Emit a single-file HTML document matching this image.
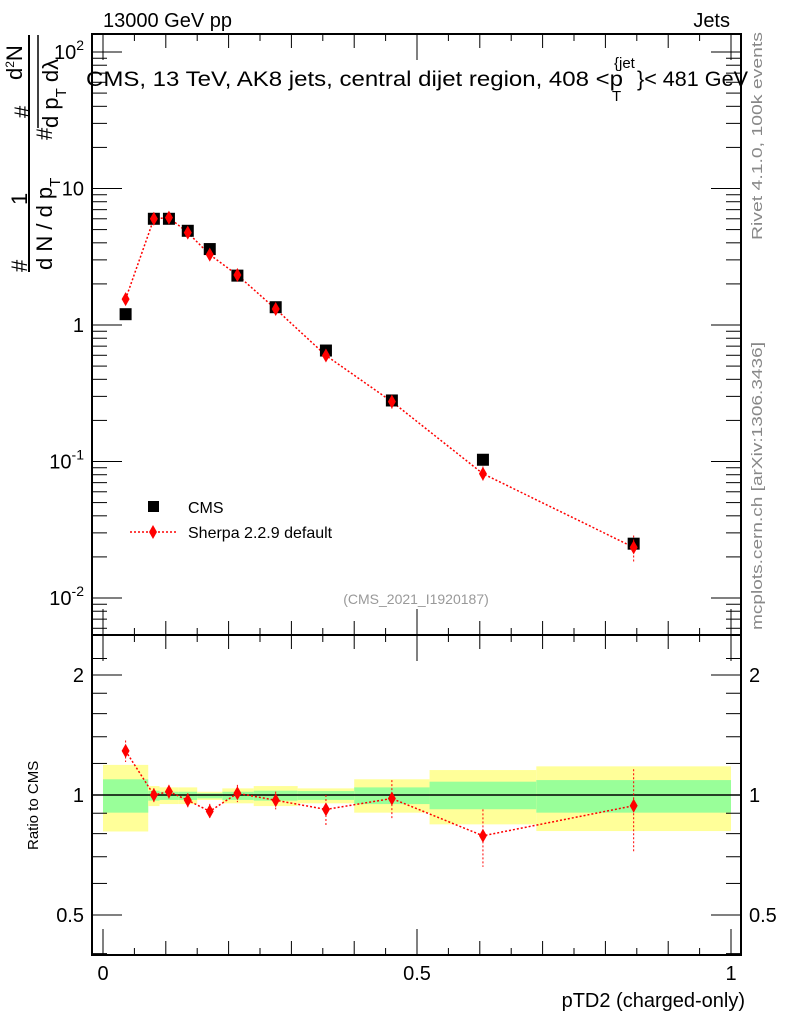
<!DOCTYPE html>
<html><head><meta charset="utf-8"><style>
html,body{margin:0;padding:0;background:#fff;}
svg{display:block;font-family:"Liberation Sans",sans-serif;}
</style></head><body>
<svg id="chart" width="786" height="1024" viewBox="0 0 786 1024" xmlns="http://www.w3.org/2000/svg">
<g id="bands"></g>
<g id="ticks"></g>
<g id="marks"></g>
<rect x="92" y="34" width="649" height="601" fill="none" stroke="#000" stroke-width="2"/>
<rect x="92" y="635" width="649" height="320" fill="none" stroke="#000" stroke-width="2"/>
<text x="103" y="27" font-size="20">13000 GeV pp</text>
<text x="730" y="27" font-size="20" text-anchor="end">Jets</text>
<g>
<text x="86" y="86" font-size="21" textLength="537" lengthAdjust="spacingAndGlyphs">CMS, 13 TeV, AK8 jets, central dijet region, 408 &lt;p</text>
<text x="614" y="68" font-size="15">{jet</text>
<text x="612" y="101" font-size="15">T</text>
<text x="637" y="86" font-size="21" textLength="111" lengthAdjust="spacingAndGlyphs">}&lt; 481 GeV</text>
</g>
<text transform="translate(762,240) rotate(-90)" font-size="15" fill="#888" textLength="208" lengthAdjust="spacingAndGlyphs">Rivet 4.1.0,  100k events</text>
<text transform="translate(762,630) rotate(-90)" font-size="15" fill="#888" textLength="288" lengthAdjust="spacingAndGlyphs">mcplots.cern.ch [arXiv:1306.3436]</text>
<text x="416" y="604" font-size="14" fill="#999" text-anchor="middle">(CMS_2021_I1920187)</text>
<g font-size="22">
<text transform="translate(27,272) rotate(-90)">#</text>
<text transform="translate(27,205) rotate(-90)">1</text>
<line x1="29" y1="272" x2="29" y2="35" stroke="#000" stroke-width="2"/>
<text transform="translate(52,270) rotate(-90)">d N / d p<tspan font-size="15" dy="8">T</tspan></text>
<text transform="translate(52,140) rotate(-90)">#</text>
<text transform="translate(30,118) rotate(-90)">#</text>
<text transform="translate(22,80) rotate(-90)">d<tspan font-size="12" dy="-8">2</tspan><tspan dy="8">N</tspan></text>
<line x1="38" y1="128" x2="38" y2="35" stroke="#000" stroke-width="1.5"/>
<text transform="translate(58,128) rotate(-90)">d p<tspan font-size="15" dy="8">T</tspan><tspan dy="-8"> dλ</tspan></text>
</g>
<text transform="translate(38,850) rotate(-90)" font-size="15">Ratio to CMS</text>
<text x="745" y="1007" font-size="20" text-anchor="end">pTD2 (charged-only)</text>
<g>
<rect x="148" y="501" width="11" height="11" fill="#000"/>
<text x="188" y="513" font-size="16">CMS</text>
<line x1="130" y1="532" x2="178" y2="532" stroke="#f00" stroke-width="1.5" stroke-dasharray="2,2"/>
<path d="M153 525 L157 532 L153 539 L149 532 Z" fill="#f00"/>
<text x="188" y="538" font-size="16">Sherpa 2.2.9 default</text>
</g>
</svg>
<script>
const edges=[0,0.072,0.09,0.12,0.15,0.19,0.24,0.31,0.40,0.52,0.69,1.0];
const xCenters=[0.036,0.081,0.105,0.135,0.17,0.214,0.275,0.355,0.46,0.605,0.845];
const cmsValues=[1.2,6.0,6.0,4.9,3.6,2.3,1.35,0.65,0.28,0.103,0.025];
const ratioValues=[1.29,1.0,1.02,0.97,0.91,1.01,0.97,0.92,0.98,0.79,0.94];
const ratioErrors=[0.08,0.04,0.04,0.04,0.04,0.05,0.05,0.08,0.11,0.13,0.22];
const yellowHi=[1.19,1.053,1.045,1.045,1.019,1.039,1.053,1.039,1.095,1.155,1.18];
const yellowLo=[0.81,0.938,0.949,0.949,0.972,0.953,0.938,0.953,0.903,0.844,0.812];
const greenHi=[1.095,1.025,1.019,1.019,1.01,1.019,1.025,1.023,1.045,1.08,1.09];
const greenLo=[0.903,0.968,0.972,0.972,0.981,0.972,0.968,0.972,0.949,0.921,0.903];
const mainTickLabels=["10^-2","10^-1","1","10","10^2"];
const ratioTickVals=[0.5,1,2];
const xTickLabels=["0","0.5","1"];
const NS="http://www.w3.org/2000/svg";
const X=v=>103+628*v;
const Y=v=>325-136.5*Math.log10(v);
const R=v=>795-398.6*Math.log10(v);
function mk(tag,attrs,parent){const e=document.createElementNS(NS,tag);for(const k in attrs)e.setAttribute(k,attrs[k]);parent.appendChild(e);return e;}
const bands=document.getElementById('bands'),ticks=document.getElementById('ticks'),marks=document.getElementById('marks');
for(let i=0;i<xCenters.length;i++){
 const x0=X(edges[i]),x1=X(edges[i+1]);
 const yb=mk('rect',{x:x0,y:R(yellowHi[i]),width:x1-x0,height:R(yellowLo[i])-R(yellowHi[i]),fill:'#ffff99'},bands);
 
 
 const gb=mk('rect',{x:x0,y:R(greenHi[i]),width:x1-x0,height:R(greenLo[i])-R(greenHi[i]),fill:'#99ff99'},bands);
 
 
}
const one=mk('line',{x1:92,x2:741,y1:R(1),y2:R(1),stroke:'#000','stroke-width':1.5},bands);


for(let k=0;k<=20;k++){const v=k*0.05,x=X(v);const big=k%10==0,mid=k%2==0;const L=big?26:(mid?14:7);
 mk('line',{x1:x,x2:x,y1:34,y2:34+L,stroke:'#000'},ticks);
 mk('line',{x1:x,x2:x,y1:635-L,y2:635+L,stroke:'#000'},ticks);
 mk('line',{x1:x,x2:x,y1:955-L,y2:955,stroke:'#000'},ticks);}
xTickLabels.forEach((t,i)=>{const tl=mk('text',{x:X(i*0.5),y:980,'font-size':20,'text-anchor':'middle'},ticks);tl.textContent=t;
 
 });
for(let d=-3;d<=2;d++){for(let m=1;m<10;m++){const v=m*Math.pow(10,d),y=Y(v);if(y<34||y>635)continue;const L=m==1?30:15;
 mk('line',{x1:92,x2:92+L,y1:y,y2:y,stroke:'#000'},ticks);mk('line',{x1:741-L,x2:741,y1:y,y2:y,stroke:'#000'},ticks);}}
mainTickLabels.forEach((t,i)=>{const y=Y(Math.pow(10,i-2))+7;const tl=mk('text',{x:84,y:y,'font-size':20,'text-anchor':'end'},ticks);
 
 
 const p=t.split('^');if(p.length==1)tl.textContent=t;else{tl.textContent=p[0];const s=mk('tspan',{'font-size':14,dy:-9},tl);s.textContent=p[1];}});
[0.4,0.5,0.6,0.7,0.8,0.9,1,1.2,1.4,1.6,1.8,2,2.2].forEach(v=>{const y=R(v);if(y<635||y>955)return;const L=(v==0.5||v==1||v==2)?30:15;
 mk('line',{x1:92,x2:92+L,y1:y,y2:y,stroke:'#000'},ticks);mk('line',{x1:741-L,x2:741,y1:y,y2:y,stroke:'#000'},ticks);});
ratioTickVals.forEach(v=>{[[84,'end'],[749,'start']].forEach(([x,a])=>{const tl=mk('text',{x:x,y:R(v)+7,'font-size':20,'text-anchor':a},ticks);tl.textContent=String(v);
 
 });});
const sherpa=cmsValues.map((v,i)=>v*ratioValues[i]);
mk('polyline',{points:xCenters.map((x,i)=>X(x)+','+Y(sherpa[i])).join(' '),fill:'none',stroke:'#f00','stroke-width':1.5,'stroke-dasharray':'2,2'},marks);
mk('polyline',{points:xCenters.map((x,i)=>X(x)+','+R(ratioValues[i])).join(' '),fill:'none',stroke:'#f00','stroke-width':1.5,'stroke-dasharray':'2,2'},marks);
xCenters.forEach((xv,i)=>{const x=X(xv);
 const sq=mk('rect',{x:x-6,y:Y(cmsValues[i])-6,width:12,height:12,fill:'#000'},marks);
 
 
 const ys=Y(sherpa[i]),e=ratioErrors[i];
 mk('line',{x1:x,x2:x,y1:Y(sherpa[i]*(1+e)),y2:Y(sherpa[i]*(1-e)),stroke:'#f00','stroke-dasharray':'2,2'},marks);
 const d1=mk('path',{d:`M${x} ${ys-7}L${x+4} ${ys}L${x} ${ys+7}L${x-4} ${ys}Z`,fill:'#f00'},marks);
 
 
 const yr=R(ratioValues[i]),r=ratioValues[i];
 mk('line',{x1:x,x2:x,y1:R(r+e),y2:R(r-e),stroke:'#f00','stroke-dasharray':'2,2'},marks);
 const d2=mk('path',{d:`M${x} ${yr-7}L${x+4} ${yr}L${x} ${yr+7}L${x-4} ${yr}Z`,fill:'#f00'},marks);
 
 
});
</script>
</body></html>
